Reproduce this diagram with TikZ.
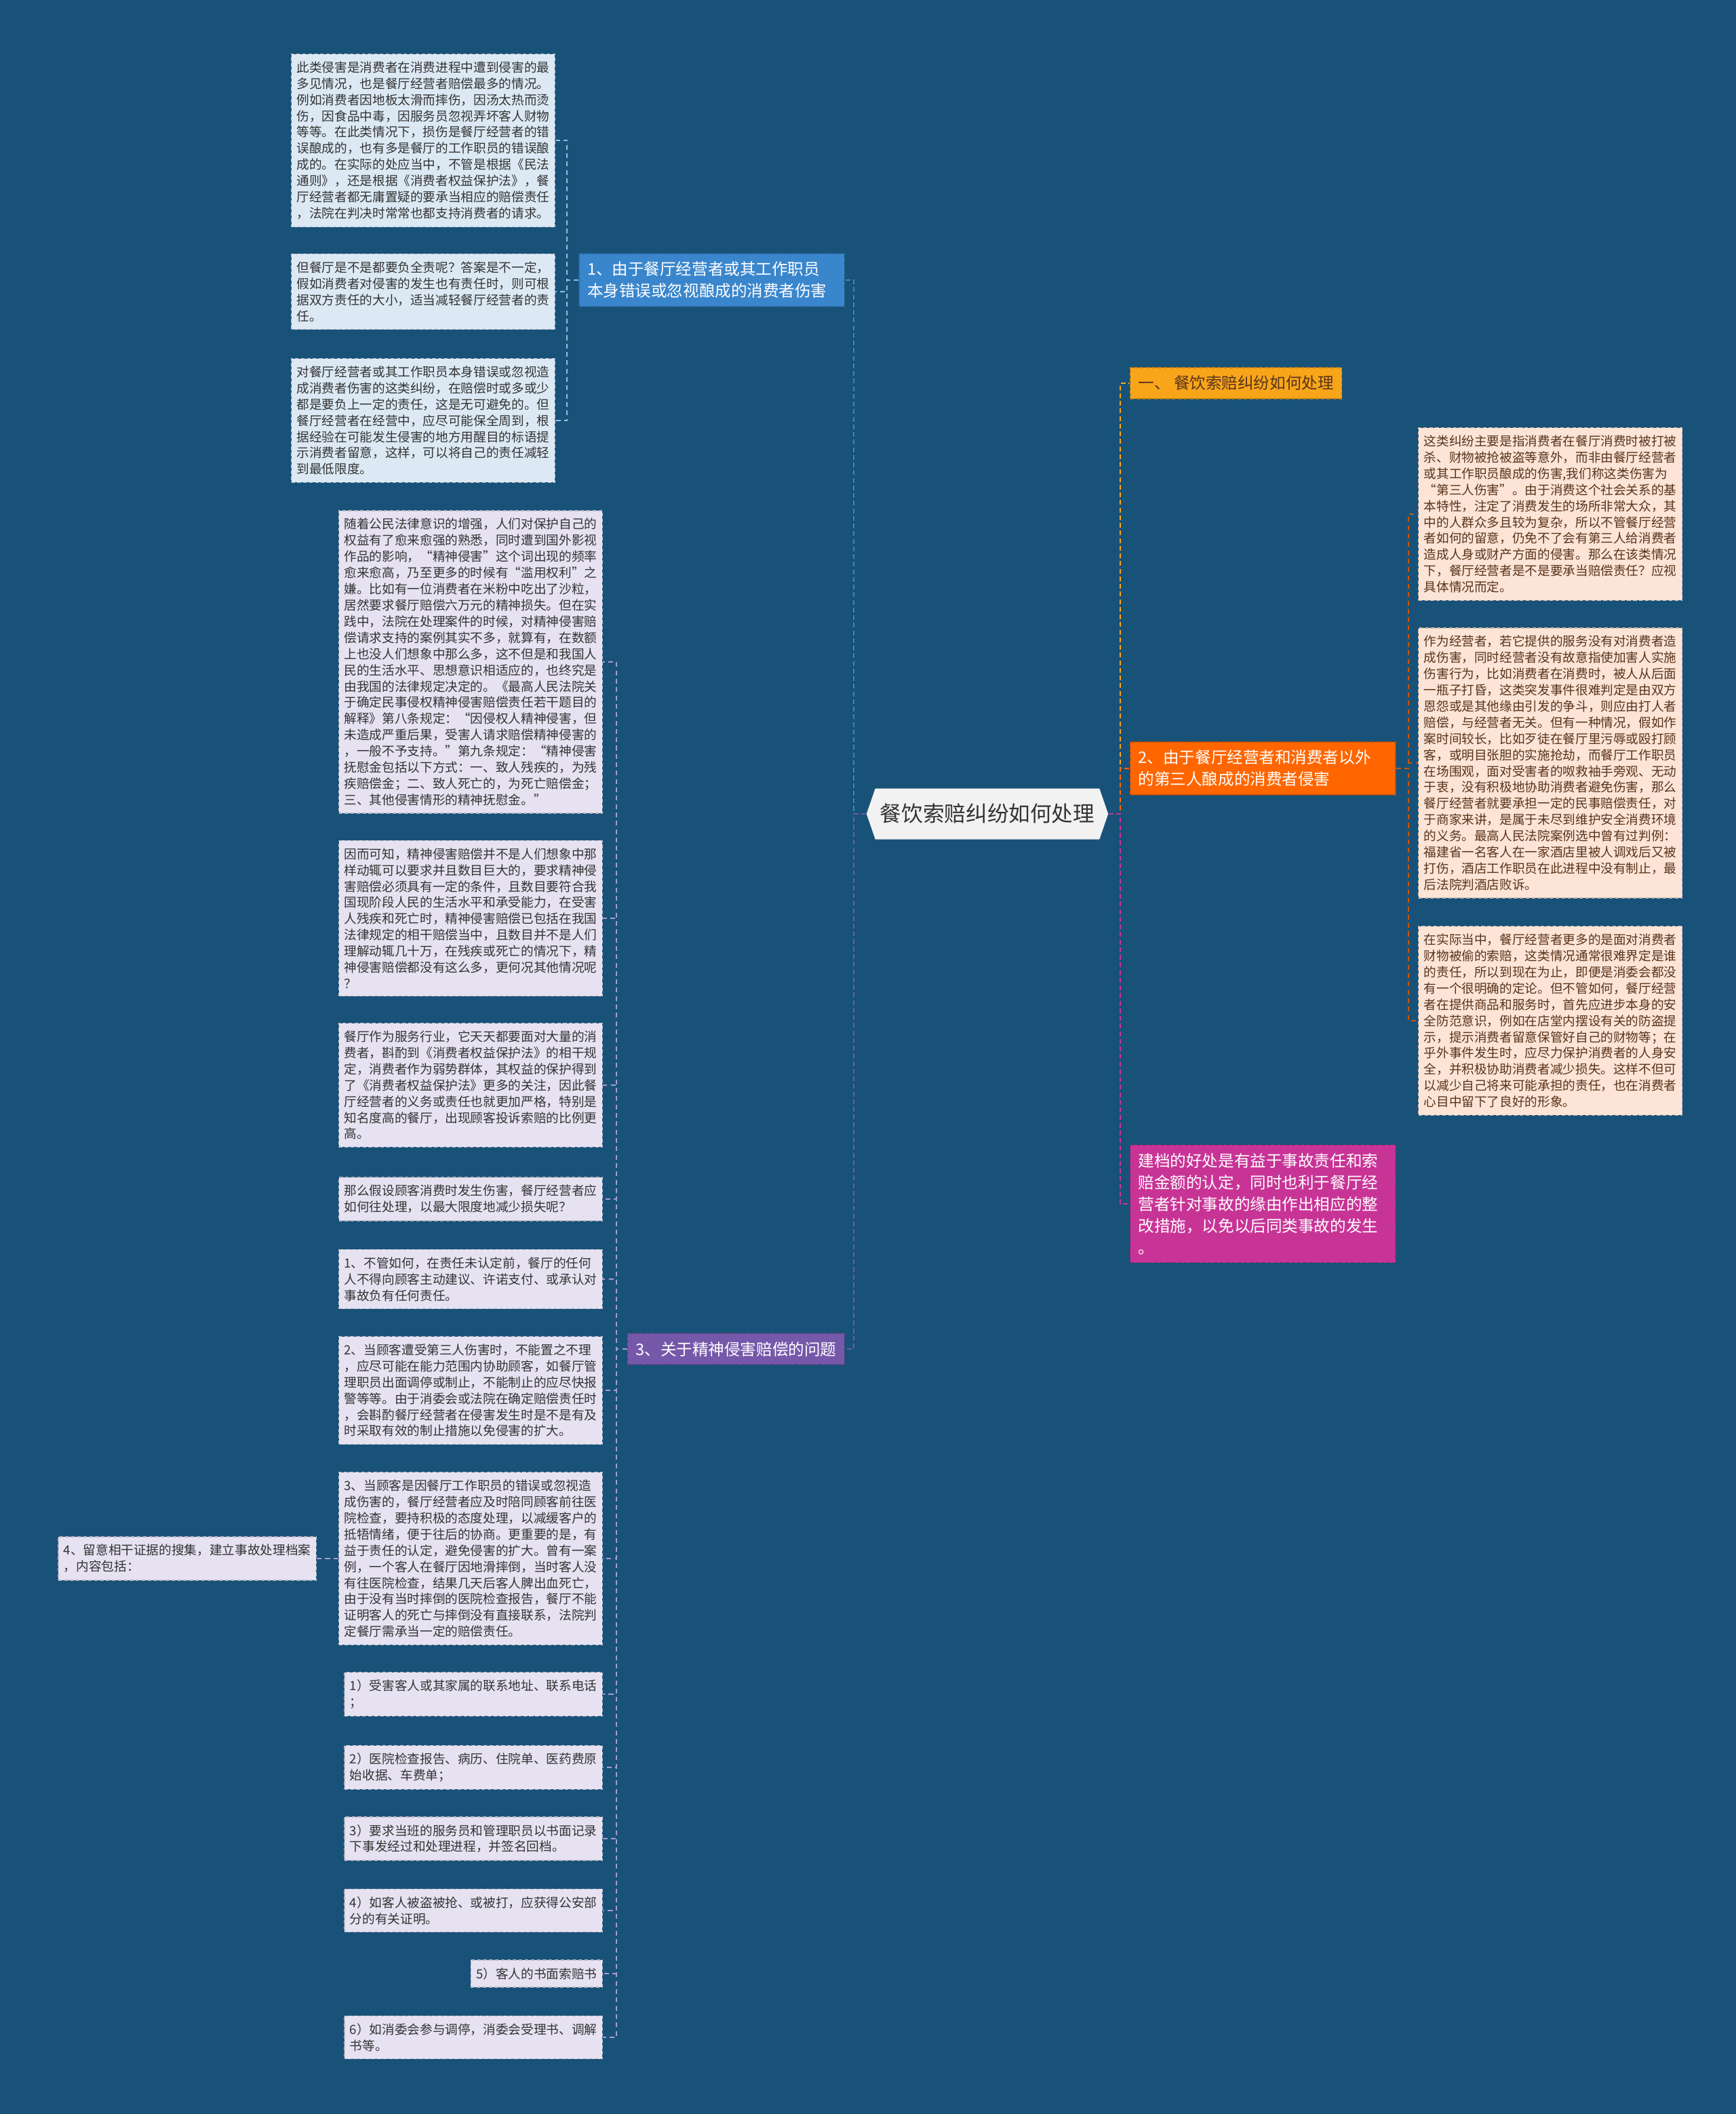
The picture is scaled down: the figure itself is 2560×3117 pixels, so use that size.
\documentclass[tikz,border=0pt]{standalone}
\usepackage{fontspec}
\setmainfont{Noto Sans CJK SC}
\usetikzlibrary{positioning,shapes.symbols}
\definecolor{MapBg}{RGB}{24,82,120}
\definecolor{MapRoot}{RGB}{242,242,242}
\definecolor{MapInk}{RGB}{51,51,51}
\definecolor{MapBlue}{RGB}{58,134,205}
\definecolor{MapBlueSoft}{RGB}{220,233,245}
\definecolor{MapPurple}{RGB}{118,88,170}
\definecolor{MapLavender}{RGB}{230,226,242}
\definecolor{MapAmber}{RGB}{249,165,26}
\definecolor{MapOrange}{RGB}{255,102,0}
\definecolor{MapPeach}{RGB}{252,228,214}
\definecolor{MapBrown}{RGB}{88,52,28}
\definecolor{MapMagenta}{RGB}{200,52,150}
\tikzset{
  mm/root/.style={
    signal,
    signal to=west and east,
    signal pointer angle=142,
    fill=MapRoot,
    draw=none,
    text=MapInk,
    minimum width=3.48cm,
    minimum height=0.75cm,
    inner xsep=2pt,
    font=\fontsize{9pt}{11pt}\selectfont
  },
  mm/branch/.style={
    draw=#1!75!black,
    dash pattern=on 1.5pt off 1pt,
    line width=0.4pt,
    fill=#1,
    text=white,
    align=left,
    inner xsep=0.12cm,
    inner ysep=0.12cm,
    font=\fontsize{6.7pt}{9.1pt}\selectfont
  },
  mm/wide/.style={text width=3.67cm},
  mm/leaf/.style={
    draw=#1!80!black,
    dash pattern=on 1.5pt off 1pt,
    line width=0.4pt,
    fill=#1,
    align=left,
    inner xsep=0.08cm,
    inner ysep=0.11cm,
    font=\fontsize{5.3pt}{6.8pt}\selectfont
  },
  mm/link/.style={draw=#1, line width=0.6pt, dash pattern=on 2pt off 1.2pt},
  mm/sublink/.style={draw=#1, line width=0.5pt, dash pattern=on 2pt off 1.5pt}
}
\begin{document}
\begin{tikzpicture}[x=0.01cm,y=-0.01cm]
  \useasboundingbox (0,0) rectangle (2560,3117);
  \fill[MapBg] (0,0) rectangle (2560,3117);

  \node[mm/root] (root) at (1456,1200) {餐饮索赔纠纷如何处理};

  \node[mm/branch=MapAmber,text=MapBrown,anchor=west] (b0) at (1666,565) {一、 餐饮索赔纠纷如何处理};
  \node[mm/branch=MapOrange,mm/wide,anchor=west] (b2) at (1666,1133) {2、由于餐厅经营者和消费者以外\\的第三人酿成的消费者侵害};
  \node[mm/branch=MapMagenta,mm/wide,anchor=west] (b5) at (1666,1775) {建档的好处是有益于事故责任和索\\赔金额的认定，同时也利于餐厅经\\营者针对事故的缘由作出相应的整\\改措施，以免以后同类事故的发生\\。};
  \node[mm/branch=MapBlue,mm/wide,anchor=east] (b1) at (1246,413) {1、由于餐厅经营者或其工作职员\\本身错误或忽视酿成的消费者伤害};
  \node[mm/branch=MapPurple,anchor=east] (b3) at (1246,1989) {3、关于精神侵害赔偿的问题};

  \node[mm/leaf=MapBlueSoft,text=MapInk,anchor=east] (lb1) at (819,207) {此类侵害是消费者在消费进程中遭到侵害的最\\多见情况，也是餐厅经营者赔偿最多的情况。\\例如消费者因地板太滑而摔伤，因汤太热而烫\\伤，因食品中毒，因服务员忽视弄坏客人财物\\等等。在此类情况下，损伤是餐厅经营者的错\\误酿成的，也有多是餐厅的工作职员的错误酿\\成的。在实际的处应当中，不管是根据《民法\\通则》，还是根据《消费者权益保护法》，餐\\厅经营者都无庸置疑的要承当相应的赔偿责任\\，法院在判决时常常也都支持消费者的请求。};
  \node[mm/leaf=MapBlueSoft,text=MapInk,anchor=east] (lb2) at (819,430) {但餐厅是不是都要负全责呢？答案是不一定，\\假如消费者对侵害的发生也有责任时，则可根\\据双方责任的大小，适当减轻餐厅经营者的责\\任。};
  \node[mm/leaf=MapBlueSoft,text=MapInk,anchor=east] (lb3) at (819,620) {对餐厅经营者或其工作职员本身错误或忽视造\\成消费者伤害的这类纠纷，在赔偿时或多或少\\都是要负上一定的责任，这是无可避免的。但\\餐厅经营者在经营中，应尽可能保全周到，根\\据经验在可能发生侵害的地方用醒目的标语提\\示消费者留意，这样，可以将自己的责任减轻\\到最低限度。};

  \node[mm/leaf=MapLavender,text=MapInk,anchor=east] (p1) at (889,976) {随着公民法律意识的增强，人们对保护自己的\\权益有了愈来愈强的熟悉，同时遭到国外影视\\作品的影响，“精神侵害”这个词出现的频率\\愈来愈高，乃至更多的时候有“滥用权利”之\\嫌。比如有一位消费者在米粉中吃出了沙粒，\\居然要求餐厅赔偿六万元的精神损失。但在实\\践中，法院在处理案件的时候，对精神侵害赔\\偿请求支持的案例其实不多，就算有，在数额\\上也没人们想象中那么多，这不但是和我国人\\民的生活水平、思想意识相适应的，也终究是\\由我国的法律规定决定的。《最高人民法院关\\于确定民事侵权精神侵害赔偿责任若干题目的\\解释》第八条规定：“因侵权人精神侵害，但\\未造成严重后果，受害人请求赔偿精神侵害的\\，一般不予支持。”第九条规定：“精神侵害\\抚慰金包括以下方式：一、致人残疾的，为残\\疾赔偿金；二、致人死亡的，为死亡赔偿金；\\三、其他侵害情形的精神抚慰金。”};
  \node[mm/leaf=MapLavender,text=MapInk,anchor=east] (p2) at (889,1354) {因而可知，精神侵害赔偿并不是人们想象中那\\样动辄可以要求并且数目巨大的，要求精神侵\\害赔偿必须具有一定的条件，且数目要符合我\\国现阶段人民的生活水平和承受能力，在受害\\人残疾和死亡时，精神侵害赔偿已包括在我国\\法律规定的相干赔偿当中，且数目并不是人们\\理解动辄几十万，在残疾或死亡的情况下，精\\神侵害赔偿都没有这么多，更何况其他情况呢\\？};
  \node[mm/leaf=MapLavender,text=MapInk,anchor=east] (p3) at (889,1600) {餐厅作为服务行业，它天天都要面对大量的消\\费者，斟酌到《消费者权益保护法》的相干规\\定，消费者作为弱势群体，其权益的保护得到\\了《消费者权益保护法》更多的关注，因此餐\\厅经营者的义务或责任也就更加严格，特别是\\知名度高的餐厅，出现顾客投诉索赔的比例更\\高。};
  \node[mm/leaf=MapLavender,text=MapInk,anchor=east] (p4) at (889,1768) {那么假设顾客消费时发生伤害，餐厅经营者应\\如何往处理，以最大限度地减少损失呢？};
  \node[mm/leaf=MapLavender,text=MapInk,anchor=east] (p5) at (889,1886) {1、不管如何，在责任未认定前，餐厅的任何\\人不得向顾客主动建议、许诺支付、或承认对\\事故负有任何责任。};
  \node[mm/leaf=MapLavender,text=MapInk,anchor=east] (p6) at (889,2050) {2、当顾客遭受第三人伤害时，不能置之不理\\，应尽可能在能力范围内协助顾客，如餐厅管\\理职员出面调停或制止，不能制止的应尽快报\\警等等。由于消委会或法院在确定赔偿责任时\\，会斟酌餐厅经营者在侵害发生时是不是有及\\时采取有效的制止措施以免侵害的扩大。};
  \node[mm/leaf=MapLavender,text=MapInk,anchor=east] (p7) at (889,2298) {3、当顾客是因餐厅工作职员的错误或忽视造\\成伤害的，餐厅经营者应及时陪同顾客前往医\\院检查，要持积极的态度处理，以减缓客户的\\抵牾情绪，便于往后的协商。更重要的是，有\\益于责任的认定，避免侵害的扩大。曾有一案\\例，一个客人在餐厅因地滑摔倒，当时客人没\\有往医院检查，结果几天后客人脾出血死亡，\\由于没有当时摔倒的医院检查报告，餐厅不能\\证明客人的死亡与摔倒没有直接联系，法院判\\定餐厅需承当一定的赔偿责任。};
  \node[mm/leaf=MapLavender,text=MapInk,anchor=east] (p8) at (889,2498) {1）受害客人或其家属的联系地址、联系电话\\；};
  \node[mm/leaf=MapLavender,text=MapInk,anchor=east] (p9) at (889,2606) {2）医院检查报告、病历、住院单、医药费原\\始收据、车费单；};
  \node[mm/leaf=MapLavender,text=MapInk,anchor=east] (p10) at (889,2711) {3）要求当班的服务员和管理职员以书面记录\\下事发经过和处理进程，并签名回档。};
  \node[mm/leaf=MapLavender,text=MapInk,anchor=east] (p11) at (889,2817) {4）如客人被盗被抢、或被打，应获得公安部\\分的有关证明。};
  \node[mm/leaf=MapLavender,text=MapInk,anchor=east] (p12) at (889,2910) {5）客人的书面索赔书};
  \node[mm/leaf=MapLavender,text=MapInk,anchor=east] (p13) at (889,3004) {6）如消委会参与调停，消委会受理书、调解\\书等。};
  \node[mm/leaf=MapLavender,text=MapInk,anchor=east] (p7a) at (467,2298) {4、留意相干证据的搜集，建立事故处理档案\\，内容包括：};

  \node[mm/leaf=MapPeach,text=MapBrown,anchor=west] (r1) at (2091,758) {这类纠纷主要是指消费者在餐厅消费时被打被\\杀、财物被抢被盗等意外，而非由餐厅经营者\\或其工作职员酿成的伤害,我们称这类伤害为\\“第三人伤害”。由于消费这个社会关系的基\\本特性，注定了消费发生的场所非常大众，其\\中的人群众多且较为复杂，所以不管餐厅经营\\者如何的留意，仍免不了会有第三人给消费者\\造成人身或财产方面的侵害。那么在该类情况\\下，餐厅经营者是不是要承当赔偿责任？应视\\具体情况而定。};
  \node[mm/leaf=MapPeach,text=MapBrown,anchor=west] (r2) at (2091,1125) {作为经营者，若它提供的服务没有对消费者造\\成伤害，同时经营者没有故意指使加害人实施\\伤害行为，比如消费者在消费时，被人从后面\\一瓶子打昏，这类突发事件很难判定是由双方\\恩怨或是其他缘由引发的争斗，则应由打人者\\赔偿，与经营者无关。但有一种情况，假如作\\案时间较长，比如歹徒在餐厅里污辱或殴打顾\\客，或明目张胆的实施抢劫，而餐厅工作职员\\在场围观，面对受害者的呶救袖手旁观、无动\\于衷，没有积极地协助消费者避免伤害，那么\\餐厅经营者就要承担一定的民事赔偿责任，对\\于商家来讲，是属于未尽到维护安全消费环境\\的义务。最高人民法院案例选中曾有过判例：\\福建省一名客人在一家酒店里被人调戏后又被\\打伤，酒店工作职员在此进程中没有制止，最\\后法院判酒店败诉。};
  \node[mm/leaf=MapPeach,text=MapBrown,anchor=west] (r3) at (2091,1505) {在实际当中，餐厅经营者更多的是面对消费者\\财物被偷的索赔，这类情况通常很难界定是谁\\的责任，所以到现在为止，即便是消委会都没\\有一个很明确的定论。但不管如何，餐厅经营\\者在提供商品和服务时，首先应进步本身的安\\全防范意识，例如在店堂内摆设有关的防盗提\\示，提示消费者留意保管好自己的财物等；在\\乎外事件发生时，应尽力保护消费者的人身安\\全，并积极协助消费者减少损失。这样不但可\\以减少自己将来可能承担的责任，也在消费者\\心目中留下了良好的形象。};

  \draw[mm/link=MapAmber] (root.east) -- ++(17,0) |- (b0.west);
  \draw[mm/link=MapOrange] (root.east) -- ++(17,0) |- (b2.west);
  \draw[mm/link=MapMagenta] (root.east) -- ++(17,0) |- (b5.west);
  \draw[mm/link=MapBlue] (root.west) -- ++(-18,0) |- (b1.east);
  \draw[mm/link=MapPurple] (root.west) -- ++(-18,0) |- (b3.east);

  \foreach \leaf in {lb1,lb2,lb3}
    \draw[mm/sublink=MapBlue!55!white] (b1.west) -- ++(-17,0) |- (\leaf.east);
  \foreach \leaf in {p1,p2,p3,p4,p5,p6,p7,p8,p9,p10,p11,p12,p13}
    \draw[mm/sublink=MapPurple!60!white] (b3.west) -- ++(-16,0) |- (\leaf.east);
  \draw[mm/sublink=MapPurple!60!white] (p7.west) -- (p7a.east);
  \foreach \leaf in {r1,r2,r3}
    \draw[mm/sublink=MapOrange!70!MapBrown] (b2.east) -- ++(18,0) |- (\leaf.west);
\end{tikzpicture}
\end{document}
